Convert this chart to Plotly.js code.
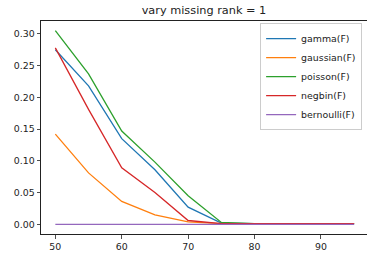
<!DOCTYPE html>
<html><head><meta charset="utf-8">
<script src="https://cdn.plot.ly/plotly-3.0.1.min.js"></script>
<style>html,body{margin:0;padding:0;background:#fff}#plot{width:367px;height:259px}</style>
</head><body><div id="plot"></div>
<script>
var missing = [50, 55, 60, 65, 70, 75, 80, 85, 90, 95];
var gamma = [0.275, 0.218, 0.135, 0.086, 0.027, 0.002, 0.001, 0.0005, 0.0005, 0.0005];
var gaussian = [0.142, 0.081, 0.036, 0.015, 0.004, 0.001, 0.001, 0.001, 0.002, 0.001];
var poisson = [0.305, 0.237, 0.147, 0.098, 0.045, 0.003, 0.001, 0.001, 0.001, 0.001];
var negbin = [0.278, 0.181, 0.089, 0.050, 0.006, 0.001, 0.001, 0.001, 0.001, 0.001];
var bernoulli = [0, 0, 0, 0, 0, 0, 0, 0, 0, 0];
var names = ['gamma(F)', 'gaussian(F)', 'poisson(F)', 'negbin(F)', 'bernoulli(F)'];
var colors = ['#1f77b4', '#ff7f0e', '#2ca02c', '#d62728', '#9467bd'];
var series = [gamma, gaussian, poisson, negbin, bernoulli];
var traces = series.map(function (s, i) {
  return {x: missing, y: s, name: names[i], type: 'scatter', mode: 'lines',
          line: {color: colors[i], width: 1.3}};
});
var font = {family: 'DejaVu Sans', size: 9.4, color: '#222'};
var layout = {
  width: 367, height: 259,
  margin: {l: 41, r: 0, t: 21, b: 25},
  paper_bgcolor: '#fff', plot_bgcolor: '#fff',
  font: font,
  title: {text: 'vary missing rank = 1', font: {family: 'DejaVu Sans', size: 11.3, color: '#222'},
          x: 0.5, xref: 'paper', xanchor: 'center', y: 1 - 10 / 259, yref: 'container', yanchor: 'middle'},
  showlegend: true,
  legend: {x: 0.985, xanchor: 'right', y: 0.99, yanchor: 'top', bgcolor: 'rgba(255,255,255,0.8)',
           bordercolor: '#cccccc', borderwidth: 1, font: font, tracegroupgap: 0},
  xaxis: {range: [47.84, 96.94], tickvals: [50, 60, 70, 80, 90], showgrid: false, zeroline: false,
          showline: true, linecolor: '#222', linewidth: 1, mirror: true,
          ticks: 'outside', ticklen: 3.5, tickwidth: 0.8, tickcolor: '#222'},
  yaxis: {range: [-0.01525, 0.32025], tickvals: [0, 0.05, 0.10, 0.15, 0.20, 0.25, 0.30], tickformat: '.2f',
          showgrid: false, zeroline: false, showline: true, linecolor: '#222', linewidth: 1, mirror: false,
          ticks: 'outside', ticklen: 3.5, tickwidth: 0.8, tickcolor: '#222'}
};
Plotly.newPlot('plot', traces, layout, {staticPlot: true, displayModeBar: false});
</script></body></html>
